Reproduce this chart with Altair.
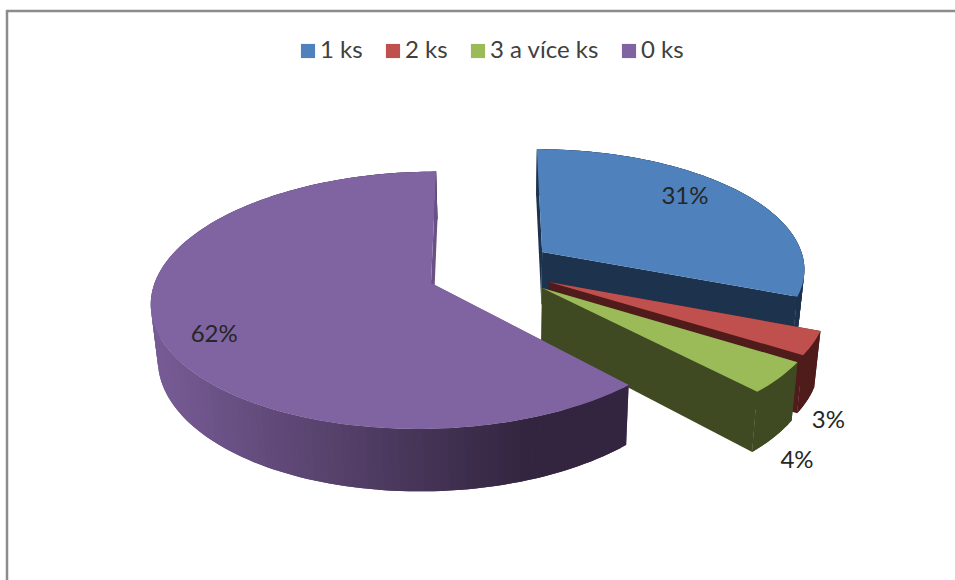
import math
import altair as alt

# Share of households by number of items owned
categories = ["1 ks", "2 ks", "3 a více ks", "0 ks"]
shares = [31, 3, 4, 62]

top_colors = ["#4f81bd", "#c0504d", "#9bbb59", "#8064a2"]
wall_colors = ["#1d324c", "#4f1c1b", "#3f4a22", "#6b5088"]

# Explode offsets of each slice on the unit disc, and label anchors
explode = [(0.41, -0.2525), (0.429, -0.008), (0.403, 0.039), (0.0, 0.0)]
rim_radius = [0.975, 1.0, 1.0, 0.995]
rim_shift = [0.0, 0.0, 0.0, -0.01]
label_anchor = [(0.993, -0.745), (1.29, 0.948), (1.156, 1.179), (-0.735, 0.388)]

# Perspective camera for the tilted disc
ORIGIN_X, ORIGIN_Y = 431, 283
RX, RY = 275, 127
DEPTH = 0.135
VANISH = -64
THICK = 54
BOTTOM_SHRINK = 0.98
BOTTOM_PIVOT = 503


def project(u, v):
    s = 1 / (1 - DEPTH * v)
    x = ORIGIN_X + (VANISH + RX * u) * s - VANISH
    y = ORIGIN_Y + RY * v * s
    return x, y, s


def top_pt(u, v):
    x, y, _ = project(u, v)
    return [x, y]


def bottom_pt(u, v):
    x, y, s = project(u, v)
    return [BOTTOM_PIVOT + (x - BOTTOM_PIVOT) * BOTTOM_SHRINK, y + THICK * s]


def feature(ring, **props):
    ring = ring + [ring[0]]
    return {
        "type": "Feature",
        "properties": props,
        "geometry": {"type": "Polygon", "coordinates": [ring]},
    }


def lerp_hex(a, b, t):
    ca = [int(a[i:i + 2], 16) for i in (1, 3, 5)]
    cb = [int(b[i:i + 2], 16) for i in (1, 3, 5)]
    return "#" + "".join(f"{round(p + (q - p) * t):02x}" for p, q in zip(ca, cb))


def purple_shade(x):
    t = max(0.0, min(1.0, (530 - x) / 370))
    return lerp_hex("#33253f", "#765b94", t)


def slice_geometry(index, start, end):
    ou, ov = explode[index]
    radius = rim_radius[index]
    shift = rim_shift[index]
    steps = max(6, int((end - start) / 1.5))
    angles = [math.radians(start + (end - start) * k / steps) for k in range(steps + 1)]
    rim = [(ou + shift + radius * math.sin(a), ov - radius * math.cos(a)) for a in angles]
    wall = wall_colors[index]

    walls = []
    # start-angle cut face
    walls.append(feature([top_pt(ou, ov), top_pt(*rim[0]), bottom_pt(*rim[0]), bottom_pt(ou, ov)], fill=wall))
    # outer rim; each strip runs one step past the next so no seams show between them
    for k in range(len(rim) - 1):
        p, q = rim[k], rim[min(k + 2, len(rim) - 1)]
        x_mid = top_pt(*rim[k])[0]
        shade = purple_shade(x_mid) if index == 3 else wall
        walls.append(feature([top_pt(*p), top_pt(*rim[k + 1]), top_pt(*q),
                              bottom_pt(*q), bottom_pt(*rim[k + 1]), bottom_pt(*p)], fill=shade))
    # end-angle cut face
    walls.append(feature([top_pt(ou, ov), top_pt(*rim[-1]), bottom_pt(*rim[-1]), bottom_pt(ou, ov)], fill=wall))

    top = [feature([top_pt(ou, ov)] + [top_pt(*p) for p in rim], category=categories[index])]
    return walls, top


color_scale = alt.Scale(domain=categories, range=top_colors)
legend = alt.Legend(
    orient="none",
    legendX=296,
    legendY=39,
    direction="horizontal",
    columns=4,
    title=None,
    symbolType="square",
    symbolSize=200,
    symbolStrokeWidth=0,
    symbolOpacity=1,
    labelFont="Lato",
    labelFontSize=24,
    labelColor="#404040",
    labelOffset=0,
    columnPadding=18,
    padding=0,
)

layers = []

# Chart frame
frame = "#8c8c8c"
layers.append(alt.Chart().mark_rule(color=frame, strokeWidth=2.5).encode(
    x=alt.value(6), x2=alt.value(955), y=alt.value(11)))
layers.append(alt.Chart().mark_rule(color=frame, strokeWidth=2.5).encode(
    x=alt.value(7), y=alt.value(10), y2=alt.value(580)))

angle = 0.0
total = sum(shares)
for i, share in enumerate(shares):
    sweep = 360 * share / total
    walls, top = slice_geometry(i, angle, angle + sweep)
    angle += sweep
    layers.append(
        alt.Chart(alt.Data(values=walls))
        .mark_geoshape(strokeWidth=0)
        .encode(fill=alt.Fill("properties.fill:N", scale=None))
        .project(type="identity", scale=1, translate=[0, 0])
    )
    layers.append(
        alt.Chart(alt.Data(values=top))
        .mark_geoshape(strokeWidth=0)
        .encode(color=alt.Color("properties.category:N", scale=color_scale, legend=legend, sort=categories))
        .project(type="identity", scale=1, translate=[0, 0])
    )

# Percentage labels
label_rows = []
for share, (u, v) in zip(shares, label_anchor):
    x, y, _ = project(u, v)
    label_rows.append({"share": f"{share}%", "px": x, "py": y})

layers.append(
    alt.Chart(alt.Data(values=label_rows))
    .mark_text(font="Lato", fontSize=24, color="#262626", align="center", baseline="middle")
    .encode(
        x=alt.X("px:Q", scale=None),
        y=alt.Y("py:Q", scale=None),
        text="share:N",
    )
)

chart = (
    alt.layer(*layers)
    .properties(width=955, height=580, padding=0, background="white", autosize=alt.AutoSizeParams(type="none"))
    .configure_view(stroke=None)
)

chart.save("out.html", embed_options={"renderer": "svg", "actions": False})
